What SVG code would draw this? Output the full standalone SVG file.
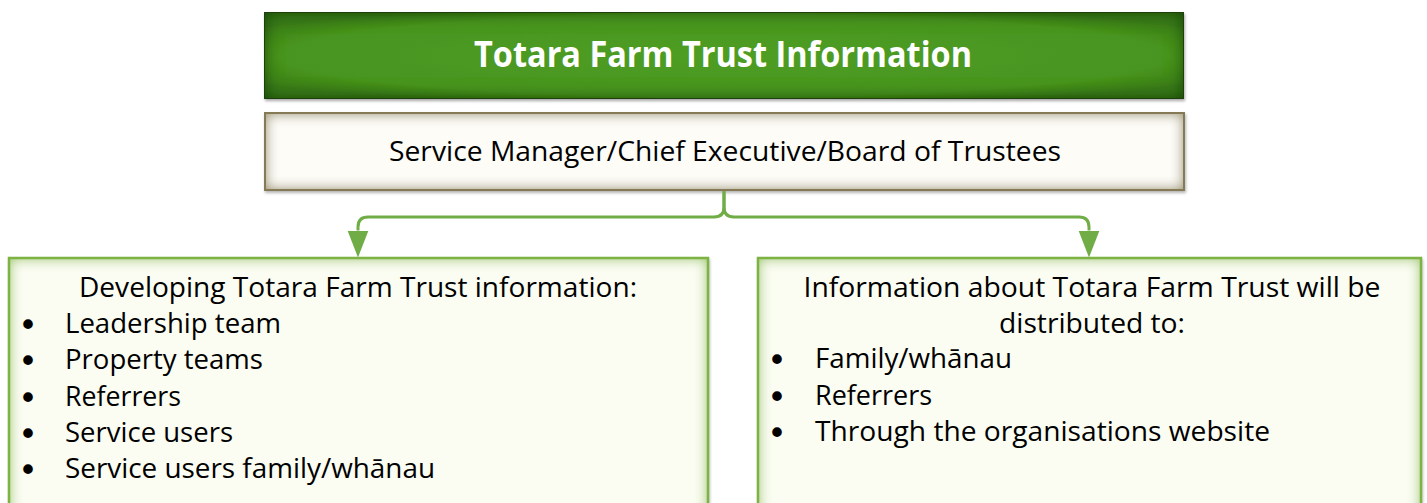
<svg xmlns="http://www.w3.org/2000/svg" width="1427" height="503" viewBox="0 0 1427 503">
  <style>
    .txt { font-family: "Open Sans", "Noto Sans", "Liberation Sans", sans-serif; font-size: 28px; fill: #000; }
    .title { font-family: "Open Sans", "Noto Sans", "Liberation Sans", sans-serif; font-size: 35px; font-weight: bold; fill: #fff; }
    .bullet { font-family: "DejaVu Sans", sans-serif; font-size: 33px; fill: #000; text-anchor: middle; }
    .mid { text-anchor: middle; }
    .link { fill: none; stroke: #70ad47; stroke-width: 3; }
  </style>
  <defs>
    <radialGradient id="greenFill" cx="50%" cy="50%" r="60%">
      <stop offset="0" stop-color="#4f9e24"/>
      <stop offset="0.8" stop-color="#489520"/>
      <stop offset="1" stop-color="#3b7d1a"/>
    </radialGradient>
    <!-- inner shading + soft drop shadow, one per colour scheme -->
    <filter id="innerGreenDark" x="-10%" y="-60%" width="120%" height="220%">
      <feGaussianBlur in="SourceAlpha" stdDeviation="1.5" result="sb"/>
      <feOffset in="sb" dx="1" dy="1.5" result="so"/>
      <feFlood flood-color="#000" flood-opacity="0.35"/>
      <feComposite in2="so" operator="in" result="shadow"/>
      <feFlood flood-color="#0f2b05" result="c"/>
      <feComposite in="c" in2="SourceAlpha" operator="out" result="out"/>
      <feGaussianBlur in="out" stdDeviation="9" result="b"/>
      <feComposite in="b" in2="SourceAlpha" operator="in" result="inner"/>
      <feMerge><feMergeNode in="shadow"/><feMergeNode in="SourceGraphic"/><feMergeNode in="inner"/></feMerge>
    </filter>
    <filter id="innerTan" x="-10%" y="-60%" width="120%" height="220%">
      <feGaussianBlur in="SourceAlpha" stdDeviation="1.5" result="sb"/>
      <feOffset in="sb" dx="1" dy="1.5" result="so"/>
      <feFlood flood-color="#000" flood-opacity="0.3"/>
      <feComposite in2="so" operator="in" result="shadow"/>
      <feFlood flood-color="#a39a74" result="c"/>
      <feComposite in="c" in2="SourceAlpha" operator="out" result="out"/>
      <feGaussianBlur in="out" stdDeviation="7" result="b"/>
      <feComposite in="b" in2="SourceAlpha" operator="in" result="inner"/>
      <feMerge><feMergeNode in="shadow"/><feMergeNode in="SourceGraphic"/><feMergeNode in="inner"/><feMergeNode in="inner"/></feMerge>
    </filter>
    <filter id="innerLime" x="-10%" y="-30%" width="120%" height="160%">
      <feGaussianBlur in="SourceAlpha" stdDeviation="1.5" result="sb"/>
      <feOffset in="sb" dx="1" dy="1.5" result="so"/>
      <feFlood flood-color="#000" flood-opacity="0.25"/>
      <feComposite in2="so" operator="in" result="shadow"/>
      <feFlood flood-color="#a5cd74" result="c"/>
      <feComposite in="c" in2="SourceAlpha" operator="out" result="out"/>
      <feGaussianBlur in="out" stdDeviation="7" result="b"/>
      <feComposite in="b" in2="SourceAlpha" operator="in" result="inner"/>
      <feMerge><feMergeNode in="shadow"/><feMergeNode in="SourceGraphic"/><feMergeNode in="inner"/><feMergeNode in="inner"/></feMerge>
    </filter>
    <marker id="arrow" markerUnits="userSpaceOnUse" markerWidth="28" markerHeight="22" refX="0" refY="10.5" orient="auto">
      <path d="M0,0 L27,10.5 L0,21 Z" fill="#70ad47"/>
    </marker>
  </defs>

  <rect width="1427" height="503" fill="#fff"/>

  <!-- heading -->
  <g id="title">
    <rect x="264" y="12" width="920" height="87" fill="url(#greenFill)" filter="url(#innerGreenDark)"/>
    <rect x="264.5" y="12.5" width="919" height="86" fill="none" stroke="#1f3f0c" stroke-width="1"/>
    <text class="title mid" x="723" y="67" textLength="498" lengthAdjust="spacingAndGlyphs">Totara Farm Trust Information</text>
  </g>

  <!-- management -->
  <g id="management">
    <rect x="264" y="112" width="921" height="79" fill="#fdfcf7" filter="url(#innerTan)"/>
    <rect x="265" y="113" width="919" height="77" fill="none" stroke="#857a55" stroke-width="2"/>
    <text class="txt mid" x="725" y="161" textLength="672" lengthAdjust="spacingAndGlyphs">Service Manager/Chief Executive/Board of Trustees</text>
  </g>

  <!-- connectors -->
  <g id="connectors">
    <path class="link" d="M724,191 V207 Q724,217 714,217 H368 Q358,217 358,227 V230.5" marker-end="url(#arrow)"/>
    <path class="link" d="M724,191 V207 Q724,217 734,217 H1079 Q1089,217 1089,227 V230.5" marker-end="url(#arrow)"/>
  </g>

  <!-- developing information -->
  <g id="developing">
    <rect x="8" y="257" width="701" height="262" fill="#fbfdf2" filter="url(#innerLime)"/>
    <rect x="9" y="258" width="699" height="260" fill="none" stroke="#7cb342" stroke-width="2.5"/>
    <text class="txt mid" x="358" y="297" textLength="558" lengthAdjust="spacingAndGlyphs">Developing Totara Farm Trust information:</text>
    <text class="bullet" x="28" y="337">•</text>
    <text class="txt" x="65" y="333" textLength="216" lengthAdjust="spacingAndGlyphs">Leadership team</text>
    <text class="bullet" x="28" y="373">•</text>
    <text class="txt" x="65" y="369" textLength="198" lengthAdjust="spacingAndGlyphs">Property teams</text>
    <text class="bullet" x="28" y="410">•</text>
    <text class="txt" x="65" y="406" textLength="116" lengthAdjust="spacingAndGlyphs">Referrers</text>
    <text class="bullet" x="28" y="446">•</text>
    <text class="txt" x="65" y="442" textLength="168" lengthAdjust="spacingAndGlyphs">Service users</text>
    <text class="bullet" x="28" y="482">•</text>
    <text class="txt" x="65" y="478" textLength="370" lengthAdjust="spacingAndGlyphs">Service users family/whānau</text>
  </g>

  <!-- distribution -->
  <g id="distribution">
    <rect x="757" y="257" width="665" height="262" fill="#fbfdf2" filter="url(#innerLime)"/>
    <rect x="758" y="258" width="663" height="260" fill="none" stroke="#7cb342" stroke-width="2.5"/>
    <text class="txt mid" x="1092" y="297" textLength="577" lengthAdjust="spacingAndGlyphs">Information about Totara Farm Trust will be</text>
    <text class="txt mid" x="1092" y="333" textLength="186" lengthAdjust="spacingAndGlyphs">distributed to:</text>
    <text class="bullet" x="777" y="372">•</text>
    <text class="txt" x="815" y="368" textLength="197" lengthAdjust="spacingAndGlyphs">Family/whānau</text>
    <text class="bullet" x="777" y="409">•</text>
    <text class="txt" x="815" y="405" textLength="117" lengthAdjust="spacingAndGlyphs">Referrers</text>
    <text class="bullet" x="777" y="445">•</text>
    <text class="txt" x="815" y="441" textLength="455" lengthAdjust="spacingAndGlyphs">Through the organisations website</text>
  </g>
</svg>
